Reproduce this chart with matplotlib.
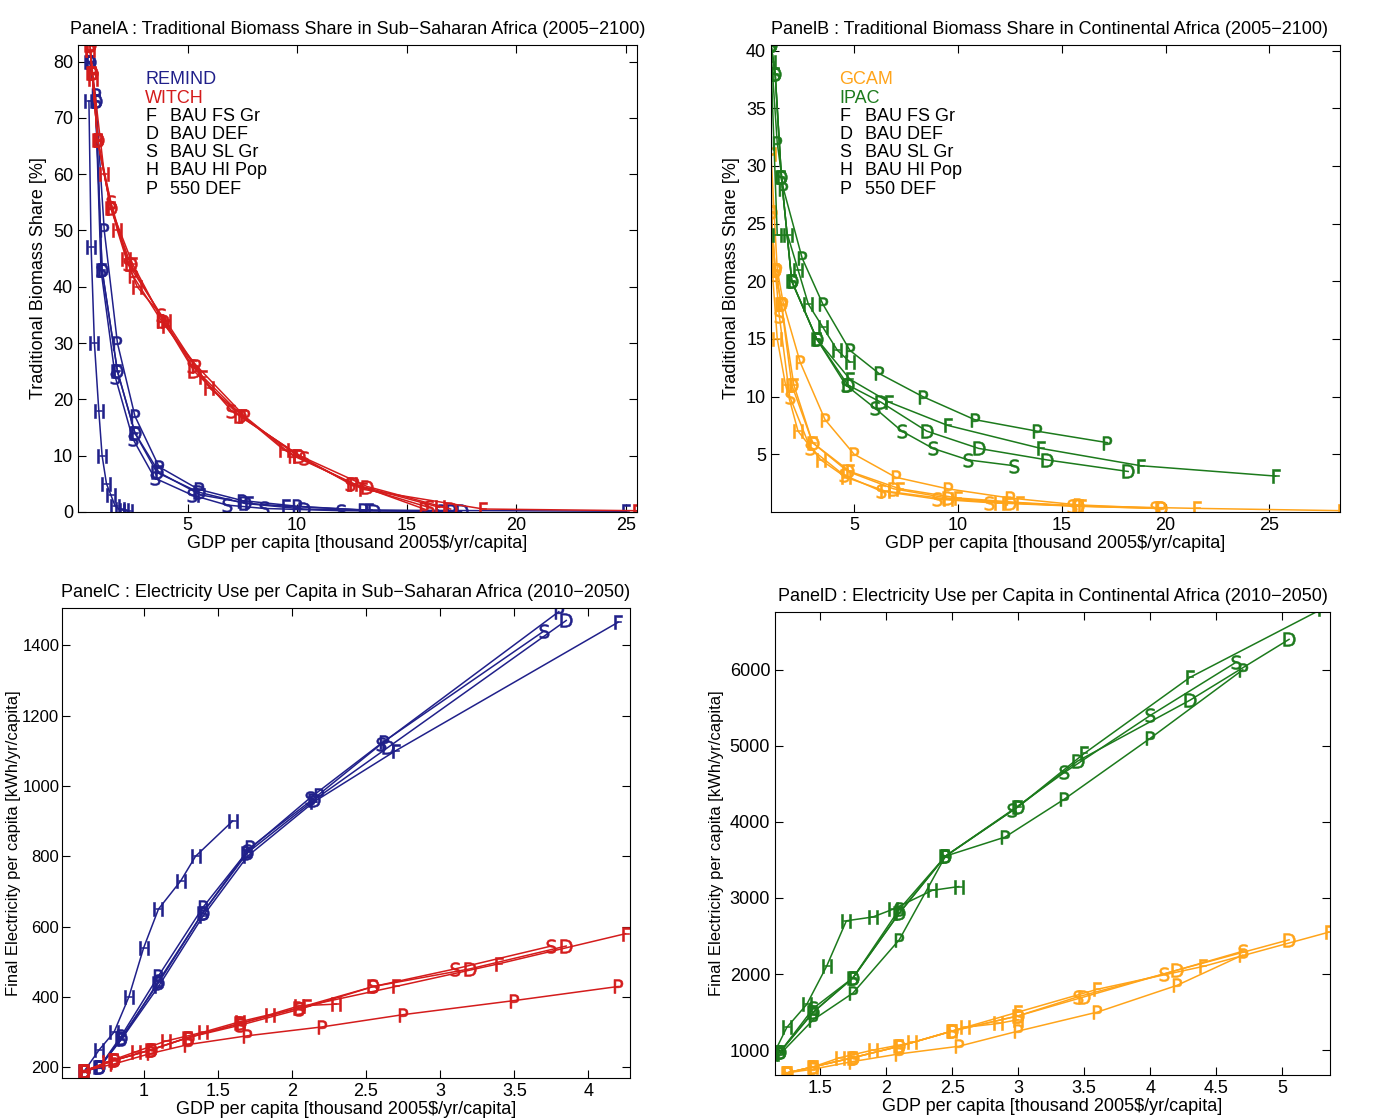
import matplotlib
matplotlib.use('Agg')
import matplotlib.pyplot as plt

plt.rcParams['font.family'] = ['Liberation Sans', 'DejaVu Sans']

REMIND = '#20208a'
WITCH = '#d41c1c'
GCAM = '#ffa41a'
IPAC = '#1c7a1c'
letters = ['F', 'D', 'S', 'H', 'P']
names = ['BAU FS Gr', 'BAU DEF', 'BAU SL Gr', 'BAU HI Pop', '550 DEF']

# --- Panel A: traditional biomass share, Sub-Saharan Africa ---
a_remind_x = {
    'F': [0.55, 0.8, 1.1, 1.8, 2.6, 3.7, 5.6, 7.8, 9.5, 13.3, 25.0],
    'D': [0.55, 0.8, 1.1, 1.8, 2.6, 3.6, 5.5, 7.6, 10.3, 13.5, 17.5],
    'S': [0.55, 0.8, 1.05, 1.7, 2.5, 3.5, 5.2, 6.8, 8.5, 12.0, 16.5],
    'H': [0.5, 0.6, 0.75, 0.95, 1.1, 1.3, 1.5, 1.7, 1.9, 2.1, 2.3],
    'P': [0.55, 0.8, 1.2, 1.8, 2.6, 3.7, 5.5, 7.5, 10.0, 13.0, 17.0],
}
a_remind_y = {
    'F': [80, 73, 43, 25, 14, 7, 3, 1.5, 1, 0.3, 0.1],
    'D': [80, 73, 43, 25, 14, 7, 3.5, 1.5, 0.5, 0.2, 0.1],
    'S': [80, 73, 43, 24, 13, 6, 3, 1.2, 0.6, 0.2, 0.1],
    'H': [73, 47, 30, 18, 10, 5, 3, 1, 0.5, 0.3, 0.2],
    'P': [80, 74, 50, 30, 17, 8, 4, 2, 1, 0.3, 0.1],
}
a_witch_x = {
    'F': [0.55, 0.65, 0.9, 1.5, 2.5, 4.0, 5.7, 7.5, 10.0, 13.0, 18.5, 25.5],
    'D': [0.55, 0.65, 0.9, 1.5, 2.4, 3.9, 5.3, 7.4, 10.1, 13.2, 17.0],
    'S': [0.55, 0.65, 0.9, 1.5, 2.3, 3.8, 5.2, 7.0, 10.3, 12.4, 16.0],
    'H': [0.55, 0.7, 1.2, 1.8, 2.2, 2.7, 4.0, 6.0, 9.4, 12.5, 16.5],
    'P': [0.55, 0.65, 0.9, 1.5, 2.5, 3.8, 5.4, 7.6, 9.8, 12.6, 15.8],
}
a_witch_y = {
    'F': [83, 78, 66, 54, 44, 33, 24, 17, 10, 4, 0.5, 0.2],
    'D': [83, 78, 66, 54, 44, 34, 25, 17, 10, 4.5, 0.5],
    'S': [83, 78, 66, 55, 44, 35, 26, 18, 9.5, 5, 0.8],
    'H': [82, 77, 60, 50, 45, 40, 34, 22, 11, 5, 0.8],
    'P': [82, 78, 66, 54, 42, 34, 26, 17, 10, 5, 0.5],
}

# --- Panel B: traditional biomass share, Continental Africa ---
b_gcam_x = {
    'F': [1.0, 1.2, 1.5, 2.1, 3.0, 4.8, 7.2, 10.0, 13.0, 16.0, 21.5, 28.5],
    'D': [1.0, 1.2, 1.5, 2.0, 3.0, 4.7, 6.9, 9.5, 12.5, 15.8, 19.8],
    'S': [1.0, 1.2, 1.4, 1.9, 2.9, 4.5, 6.3, 9.0, 11.5, 15.5, 19.5],
    'H': [1.0, 1.1, 1.3, 1.7, 2.3, 3.4, 4.6, 6.5, 9.5, 12.0, 15.8],
    'P': [1.0, 1.3, 1.6, 2.4, 3.6, 5.0, 7.0, 9.5, 12.5, 15.8, 19.8],
}
b_gcam_y = {
    'F': [26, 21, 18, 11, 6, 3.5, 2, 1.2, 0.8, 0.5, 0.3, 0.1],
    'D': [26, 21, 18, 11, 6, 3.5, 2, 1.2, 0.8, 0.5, 0.3],
    'S': [26, 21, 17, 10, 5.5, 3.2, 1.8, 1.1, 0.8, 0.5, 0.3],
    'H': [31, 20, 15, 11, 7, 4.5, 3, 1.8, 1.1, 0.8, 0.5],
    'P': [31, 21, 18, 13, 8, 5, 3, 2, 1.2, 0.6, 0.3],
}
b_ipac_x = {
    'F': [1.0, 1.2, 1.5, 2.0, 3.2, 4.8, 6.7, 9.5, 14.0, 18.8, 25.3],
    'D': [1.0, 1.2, 1.5, 2.0, 3.2, 4.7, 6.3, 8.5, 11.0, 14.3, 18.2],
    'S': [1.0, 1.2, 1.5, 2.0, 3.2, 4.6, 6.0, 7.3, 8.8, 10.5, 12.7],
    'H': [1.0, 1.3, 1.8, 2.3, 2.8, 3.5, 4.2, 4.8],
    'P': [1.0, 1.3, 1.6, 2.5, 3.5, 4.8, 6.2, 8.3, 10.8, 13.8, 17.2],
}
b_ipac_y = {
    'F': [40.5, 38, 29, 20, 15, 11.5, 9.5, 7.5, 5.5, 4, 3.1],
    'D': [40.5, 38, 29, 20, 15, 11, 9.5, 7, 5.5, 4.5, 3.5],
    'S': [40.5, 38, 29, 20, 15, 11, 9, 7, 5.5, 4.5, 4],
    'H': [39, 24, 24, 21, 18, 16, 14, 13],
    'P': [40, 32, 28, 22, 18, 14, 12, 10, 8, 7, 6],
}

# --- Panel C: electricity per capita, Sub-Saharan Africa ---
c_remind_x = {
    'F': [0.6, 0.7, 0.85, 1.1, 1.4, 1.7, 2.15, 2.7, 4.2],
    'D': [0.6, 0.7, 0.85, 1.1, 1.4, 1.7, 2.15, 2.65, 3.85],
    'S': [0.6, 0.7, 0.85, 1.1, 1.4, 1.7, 2.12, 2.6, 3.7],
    'H': [0.6, 0.7, 0.8, 0.9, 1.0, 1.1, 1.25, 1.35, 1.6],
    'P': [0.6, 0.7, 0.85, 1.1, 1.4, 1.72, 2.18, 2.62, 3.8],
}
c_remind_y = {
    'F': [190, 200, 280, 430, 630, 800, 955, 1100, 1465],
    'D': [190, 200, 285, 440, 640, 810, 960, 1110, 1470],
    'S': [190, 200, 280, 445, 640, 815, 965, 1120, 1440],
    'H': [190, 250, 300, 400, 540, 650, 730, 800, 900],
    'P': [190, 200, 290, 460, 655, 825, 975, 1125, 1495],
}
c_witch_x = {
    'F': [0.6, 0.8, 1.05, 1.3, 1.65, 2.1, 2.7, 3.4, 4.25],
    'D': [0.6, 0.8, 1.05, 1.3, 1.65, 2.05, 2.55, 3.2, 3.85],
    'S': [0.6, 0.8, 1.05, 1.3, 1.65, 2.05, 2.55, 3.1, 3.75],
    'H': [0.6, 0.75, 0.95, 1.15, 1.4, 1.65, 1.85, 2.05, 2.3],
    'P': [0.6, 0.8, 1.05, 1.3, 1.7, 2.2, 2.75, 3.5, 4.2],
}
c_witch_y = {
    'F': [190, 220, 250, 285, 325, 375, 430, 495, 580],
    'D': [190, 220, 250, 285, 325, 370, 430, 480, 545],
    'S': [190, 220, 250, 285, 320, 365, 430, 480, 545],
    'H': [190, 215, 245, 275, 300, 330, 350, 375, 380],
    'P': [190, 210, 240, 265, 290, 315, 350, 390, 430],
}

# --- Panel D: electricity per capita, Continental Africa ---
d_ipac_x = {
    'F': [1.2, 1.45, 1.75, 2.1, 2.45, 3.0, 3.5, 4.3, 5.3],
    'D': [1.2, 1.45, 1.75, 2.1, 2.45, 3.0, 3.45, 4.3, 5.05],
    'S': [1.2, 1.45, 1.75, 2.1, 2.45, 2.95, 3.35, 4.0, 4.65],
    'H': [1.15, 1.25, 1.4, 1.55, 1.7, 1.9, 2.05, 2.35, 2.55],
    'P': [1.2, 1.45, 1.75, 2.1, 2.45, 2.9, 3.35, 4.0, 4.7],
}
d_ipac_y = {
    'F': [980, 1500, 1950, 2800, 3550, 4200, 4900, 5900, 6800],
    'D': [980, 1500, 1950, 2800, 3550, 4200, 4800, 5600, 6400],
    'S': [980, 1550, 1950, 2850, 3550, 4150, 4650, 5400, 6100],
    'H': [950, 1300, 1600, 2100, 2700, 2750, 2850, 3100, 3150],
    'P': [950, 1400, 1750, 2450, 3550, 3800, 4300, 5100, 6000],
}
d_gcam_x = {
    'F': [1.25, 1.45, 1.75, 2.1, 2.5, 3.0, 3.6, 4.4, 5.35],
    'D': [1.25, 1.45, 1.75, 2.1, 2.5, 3.0, 3.5, 4.2, 5.05],
    'S': [1.25, 1.45, 1.75, 2.1, 2.5, 3.0, 3.45, 4.1, 4.7],
    'H': [1.25, 1.45, 1.65, 1.9, 2.2, 2.5, 2.6, 2.85, 3.0],
    'P': [1.25, 1.45, 1.75, 2.1, 2.55, 3.0, 3.6, 4.2, 4.7],
}
d_gcam_y = {
    'F': [700, 780, 900, 1050, 1250, 1500, 1800, 2100, 2550],
    'D': [700, 780, 900, 1050, 1250, 1450, 1700, 2050, 2450],
    'S': [700, 780, 900, 1050, 1250, 1450, 1700, 2000, 2300],
    'H': [700, 780, 900, 1000, 1100, 1250, 1300, 1350, 1400],
    'P': [700, 750, 850, 950, 1050, 1250, 1500, 1850, 2250],
}

fig = plt.figure(figsize=(13.8, 11.2), dpi=100)
axA = fig.add_axes([0.0565, 0.543, 0.405, 0.417])
axB = fig.add_axes([0.5587, 0.543, 0.4123, 0.417])
axC = fig.add_axes([0.045, 0.0375, 0.4115, 0.4195])
axD = fig.add_axes([0.5616, 0.040, 0.4022, 0.4136])


def draw(ax, xs, ys, color):
    for k in letters:
        ax.plot(xs[k], ys[k], color=color, lw=1.1, marker=r'$\mathrm{%s}$' % k,
                markersize=10, markeredgewidth=0.4)


def legend(ax, m1, c1, m2, c2):
    x0, y0, dy = 0.12, 0.925, 0.039
    ax.text(x0, y0, m1, color=c1, transform=ax.transAxes, fontsize=13, va='center')
    ax.text(x0, y0 - dy, m2, color=c2, transform=ax.transAxes, fontsize=13, va='center')
    for i, (l, n) in enumerate(zip(letters, names)):
        y = y0 - dy * (i + 2)
        ax.text(x0, y, l, transform=ax.transAxes, fontsize=13, va='center')
        ax.text(x0 + 0.045, y, n, transform=ax.transAxes, fontsize=13, va='center')


draw(axA, a_remind_x, a_remind_y, REMIND)
draw(axA, a_witch_x, a_witch_y, WITCH)
legend(axA, 'REMIND', REMIND, 'WITCH', WITCH)
axA.set_xlim(0, 25.5)
axA.set_ylim(0, 83)
axA.set_xticks([5, 10, 15, 20, 25])
axA.set_yticks(range(0, 81, 10))
axA.set_title('PanelA : Traditional Biomass Share in Sub\u2212Saharan Africa (2005\u22122100)', fontsize=13, pad=8)
axA.set_ylabel('Traditional Biomass Share [%]', fontsize=13)

draw(axB, b_gcam_x, b_gcam_y, GCAM)
draw(axB, b_ipac_x, b_ipac_y, IPAC)
legend(axB, 'GCAM', GCAM, 'IPAC', IPAC)
axB.set_xlim(1.0, 28.4)
axB.set_ylim(0, 40.5)
axB.set_xticks([5, 10, 15, 20, 25])
axB.set_yticks([5, 10, 15, 20, 25, 30, 35, 40])
axB.set_title('PanelB : Traditional Biomass Share in Continental Africa (2005\u22122100)', fontsize=13, pad=8, loc='left')
axB.set_ylabel('Traditional Biomass Share [%]', fontsize=13)

draw(axC, c_remind_x, c_remind_y, REMIND)
draw(axC, c_witch_x, c_witch_y, WITCH)
axC.set_xlim(0.45, 4.28)
axC.set_ylim(170, 1505)
axC.set_xticks([1, 1.5, 2, 2.5, 3, 3.5, 4])
axC.set_xticklabels(['1', '1.5', '2', '2.5', '3', '3.5', '4'])
axC.set_yticks(range(200, 1401, 200))
axC.set_title('PanelC : Electricity Use per Capita in Sub\u2212Saharan Africa (2010\u22122050)', fontsize=13, pad=8)
axC.set_ylabel('Final Electricity per capita [kWh/yr/capita]', fontsize=12)
axC.yaxis.set_label_coords(-0.072, 0.5)

draw(axD, d_ipac_x, d_ipac_y, IPAC)
draw(axD, d_gcam_x, d_gcam_y, GCAM)
axD.set_xlim(1.16, 5.36)
axD.set_ylim(670, 6760)
axD.set_xticks([1.5, 2, 2.5, 3, 3.5, 4, 4.5, 5])
axD.set_xticklabels(['1.5', '2', '2.5', '3', '3.5', '4', '4.5', '5'])
axD.set_yticks(range(1000, 6001, 1000))
axD.set_title('PanelD : Electricity Use per Capita in Continental Africa (2010\u22122050)', fontsize=13, pad=8)
axD.set_ylabel('Final Electricity per capita [kWh/yr/capita]', fontsize=12)

for ax in (axA, axB, axC, axD):
    ax.set_xlabel('GDP per capita [thousand 2005$/yr/capita]', fontsize=13, labelpad=1)
    ax.tick_params(direction='in', top=True, right=True, labelsize=13, length=6)
axC.tick_params(axis='y', pad=2, labelsize=12)

fig.savefig('out.png', dpi=100)
